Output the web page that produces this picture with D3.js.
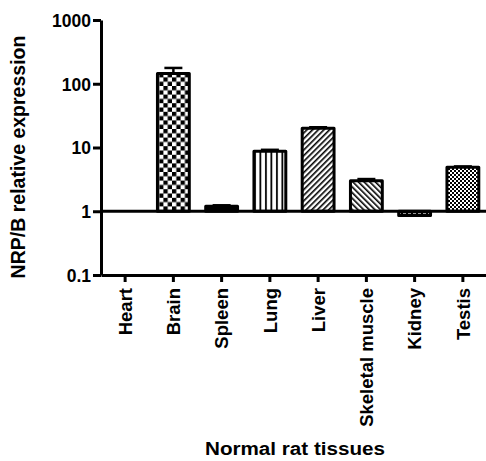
<!DOCTYPE html>
<html>
<head>
<meta charset="utf-8">
<script src="https://cdn.jsdelivr.net/npm/d3@7"></script>
<style>
    body { margin: 0; background: #fff; }
    svg { display: block; font-family: "Liberation Sans", Arial, sans-serif; font-weight: bold; }
</style>
</head>
<body>
<svg id="chart" width="486" height="461"></svg>
<script>
const tissues = ["Heart", "Brain", "Spleen", "Lung", "Liver", "Skeletal muscle", "Kidney", "Testis"];
const expression = [1, 145, 1.2, 8.7, 20, 3.0, 0.86, 4.9];
const errorUp = [0, 32, 0.04, 0.5, 0.8, 0.2, 0.02, 0.15];
const fills = ["none", "checker", "solid", "vlines", "diagUp", "diagDown", "dashes", "fineChecker"];
const yTicks = [0.1, 1, 10, 100, 1000];
const yTickLabels = ["0.1", "1", "10", "100", "1000"];

const svg = d3.select("#chart");
const margin = { left: 101, right: 0, top: 20, bottom: 275 };

const x = d3.scaleBand()
    .domain(tissues)
    .range([margin.left, 487])
    .paddingInner(0.34)
    .paddingOuter(0.17);

const y = d3.scaleLog()
    .domain([0.1, 1000])
    .range([275, 20]);

// fill patterns
const defs = svg.append("defs");

let p = defs.append("pattern").attr("id", "checker")
    .attr("patternUnits", "userSpaceOnUse").attr("width", 8.6).attr("height", 8.6);
p.append("rect").attr("width", 8.6).attr("height", 8.6).attr("fill", "#fff");
p.append("rect").attr("width", 4.3).attr("height", 4.3).attr("fill", "#000");
p.append("rect").attr("x", 4.3).attr("y", 4.3).attr("width", 4.3).attr("height", 4.3).attr("fill", "#000");

p = defs.append("pattern").attr("id", "fineChecker")
    .attr("patternUnits", "userSpaceOnUse").attr("width", 4).attr("height", 4);
p.append("rect").attr("width", 4).attr("height", 4).attr("fill", "#fff");
p.append("rect").attr("width", 2).attr("height", 2).attr("fill", "#000");
p.append("rect").attr("x", 2).attr("y", 2).attr("width", 2).attr("height", 2).attr("fill", "#000");

p = defs.append("pattern").attr("id", "vlines")
    .attr("patternUnits", "userSpaceOnUse").attr("width", 5.5).attr("height", 10);
p.append("rect").attr("width", 5.5).attr("height", 10).attr("fill", "#fff");
p.append("rect").attr("x", 1).attr("width", 1.8).attr("height", 10).attr("fill", "#000");

p = defs.append("pattern").attr("id", "diagUp")
    .attr("patternUnits", "userSpaceOnUse").attr("width", 4).attr("height", 4)
    .attr("patternTransform", "rotate(45)");
p.append("rect").attr("width", 4).attr("height", 4).attr("fill", "#fff");
p.append("rect").attr("width", 1.6).attr("height", 4).attr("fill", "#000");

p = defs.append("pattern").attr("id", "diagDown")
    .attr("patternUnits", "userSpaceOnUse").attr("width", 4).attr("height", 4)
    .attr("patternTransform", "rotate(-45)");
p.append("rect").attr("width", 4).attr("height", 4).attr("fill", "#fff");
p.append("rect").attr("width", 1.6).attr("height", 4).attr("fill", "#000");

p = defs.append("pattern").attr("id", "dashes")
    .attr("patternUnits", "userSpaceOnUse").attr("width", 5).attr("height", 8)
    .attr("x", 2).attr("y", y(1) - 1);
p.append("rect").attr("width", 5).attr("height", 8).attr("fill", "#000");
p.append("rect").attr("x", 1).attr("y", 3.2).attr("width", 3).attr("height", 1.4).attr("fill", "#fff");

function fillFor(f) {
    if (f === "none") return "none";
    if (f === "solid") return "#000";
    return "url(#" + f + ")";
}

// bars from the baseline at 1
const bars = svg.append("g").attr("class", "bars");
tissues.forEach((t, i) => {
    const v = expression[i];
    if (v === 1) return;
    const y0 = y(Math.max(v, 1)), y1 = y(Math.min(v, 1));
    bars.append("rect")
        .attr("x", x(t))
        .attr("y", y0)
        .attr("width", x.bandwidth())
        .attr("height", y1 - y0)
        .attr("fill", fillFor(fills[i]))
        .attr("stroke", "#000")
        .attr("stroke-width", 3)
        .attr("stroke-linejoin", "round");

    // upper error bar
    if (errorUp[i] > 0 && v > 1) {
        const cx = x(t) + x.bandwidth() / 2;
        const ye = y(v + errorUp[i]);
        bars.append("line")
            .attr("x1", cx).attr("x2", cx)
            .attr("y1", y0).attr("y2", ye)
            .attr("stroke", "#000").attr("stroke-width", 2.5);
        bars.append("line")
            .attr("x1", cx - 9).attr("x2", cx + 9)
            .attr("y1", ye).attr("y2", ye)
            .attr("stroke", "#000").attr("stroke-width", 2.5);
    }
});

// baseline at 1
svg.append("line")
    .attr("x1", margin.left).attr("x2", 487)
    .attr("y1", y(1)).attr("y2", y(1))
    .attr("stroke", "#000").attr("stroke-width", 3);

// y axis
const yAxis = d3.axisLeft(y)
    .tickValues(yTicks)
    .tickFormat((d, i) => yTickLabels[i])
    .tickSize(8)
    .tickSizeOuter(0)
    .tickPadding(2);

const yg = svg.append("g")
    .attr("transform", "translate(" + margin.left + ",0)")
    .call(yAxis);

// x axis
const xAxis = d3.axisBottom(x)
    .tickSize(7)
    .tickSizeOuter(0)
    .tickPadding(5);

const xg = svg.append("g")
    .attr("transform", "translate(0," + y(0.1) + ")")
    .call(xAxis);

[yg, xg].forEach((g) => {
    g.select(".domain").attr("stroke", "#000").attr("stroke-width", 3);
    g.selectAll(".tick line").attr("stroke", "#000").attr("stroke-width", 3);
    g.selectAll("text")
        .attr("fill", "#000")
        .style("font-family", "'Liberation Sans', Arial, sans-serif")
        .style("font-weight", "bold");
});

yg.selectAll("text").style("font-size", "17.5px").attr("dy", "0.36em");

xg.selectAll("text")
    .style("font-size", "18.5px")
    .attr("transform", "rotate(-90)")
    .attr("text-anchor", "end")
    .attr("x", -13)
    .attr("y", 0)
    .attr("dy", "0.36em");

// axis titles
svg.append("text")
    .attr("transform", "translate(25,157) rotate(-90)")
    .attr("text-anchor", "middle")
    .style("font-size", "19.5px")
    .text("NRP/B relative expression");

svg.append("text")
    .attr("x", 295)
    .attr("y", 455)
    .attr("text-anchor", "middle")
    .attr("textLength", 180)
    .attr("lengthAdjust", "spacingAndGlyphs")
    .style("font-size", "18px")
    .text("Normal rat tissues");
</script>
</body>
</html>
